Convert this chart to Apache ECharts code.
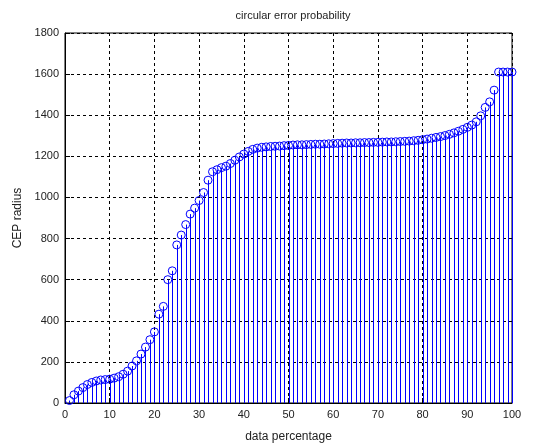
<!DOCTYPE html>
<html>
<head>
<meta charset="utf-8">
<script src="https://cdn.jsdelivr.net/npm/echarts@6/dist/echarts.min.js"></script>
<style>
  html, body { margin: 0; padding: 0; background: #fff; }
  #chart { width: 537px; height: 448px; }
</style>
</head>
<body>
<div id="chart"></div>
<script>
// Labels
const chartTitle = 'circular error probability';
const xAxisName = 'data percentage';
const yAxisName = 'CEP radius';

// Axis ranges and tick spacing
const xRange = [0, 100];
const xStep = 10;
const yRange = [0, 1800];
const yStep = 200;

// Sorted CEP radius samples, one per percentage point
const cepRadius = [
  12, 40, 58, 75, 90, 100, 107, 112, 114, 116,
  121, 128, 140, 155, 180, 205, 238, 272, 308, 346,
  432, 470, 600, 643, 769, 817, 868, 919, 948, 985,
  1024, 1084, 1125, 1135, 1145, 1152, 1165, 1181, 1197, 1211,
  1224, 1234, 1240, 1244, 1246, 1248, 1249, 1250, 1252, 1253,
  1255, 1256, 1256, 1257, 1258, 1259, 1259, 1260, 1261, 1262,
  1263, 1264, 1265, 1265, 1266, 1266, 1267, 1267, 1268, 1268,
  1269, 1270, 1270, 1271, 1272, 1273, 1274, 1276, 1278, 1281,
  1284, 1288, 1292, 1296, 1301, 1307, 1314, 1322, 1331, 1341,
  1352, 1368, 1397, 1438, 1465, 1522, 1610, 1610, 1610, 1610
];

// Percentage rank of each sample
const dataPercentage = cepRadius.map((_, i) => i + 1);
const points = dataPercentage.map((p, i) => [p, cepRadius[i]]);

const font = 'Liberation Sans, Arial, sans-serif';
const textColor = '#222';
const stemColor = '#0000ff';

const axisCommon = {
  axisLine: { show: true, lineStyle: { color: '#000', width: 1 } },
  axisTick: { show: true, inside: true, length: 5, lineStyle: { color: '#000' } },
  axisLabel: { margin: 6, fontFamily: font, fontSize: 11, color: textColor, formatter: v => String(v) },
  splitLine: { show: true, lineStyle: { color: '#000', width: 1, type: [3, 3] } },
  nameTextStyle: { fontFamily: font, fontSize: 12, color: textColor }
};

const chart = echarts.init(document.getElementById('chart'), null, { renderer: 'canvas' });
chart.setOption({
  animation: false,
  backgroundColor: '#fff',
  title: {
    text: chartTitle,
    left: 288,
    top: 5,
    textAlign: 'center',
    textStyle: { fontFamily: font, fontSize: 11, fontWeight: 'normal', color: textColor }
  },
  grid: {
    left: 65, right: 25, top: 33, bottom: 41,
    show: true, borderColor: '#000', borderWidth: 1, backgroundColor: 'transparent'
  },
  xAxis: Object.assign({}, axisCommon, {
    type: 'value',
    min: xRange[0], max: xRange[1], interval: xStep,
    name: xAxisName, nameLocation: 'middle', nameGap: 28
  }),
  yAxis: Object.assign({}, axisCommon, {
    type: 'value',
    min: yRange[0], max: yRange[1], interval: yStep,
    name: yAxisName, nameLocation: 'middle', nameGap: 38
  }),
  series: [
    {
      // stems from the baseline up to each sample, snapped to the pixel grid
      type: 'custom',
      data: points,
      z: 3,
      renderItem: (params, api) => {
        const x = api.value(0);
        const base = api.coord([x, 0]);
        const tip = api.coord([x, api.value(1)]);
        const px = Math.round(base[0]) + 0.5;
        return {
          type: 'line',
          shape: { x1: px, y1: base[1], x2: px, y2: tip[1] },
          style: { stroke: stemColor, lineWidth: 1 }
        };
      }
    },
    {
      // hollow circle markers at the stem tips
      type: 'scatter',
      data: points,
      symbol: 'circle',
      symbolSize: 8,
      clip: false,
      z: 4,
      itemStyle: { color: 'rgba(0,0,0,0)', borderColor: stemColor, borderWidth: 1, opacity: 1 }
    }
  ]
});
</script>
</body>
</html>
